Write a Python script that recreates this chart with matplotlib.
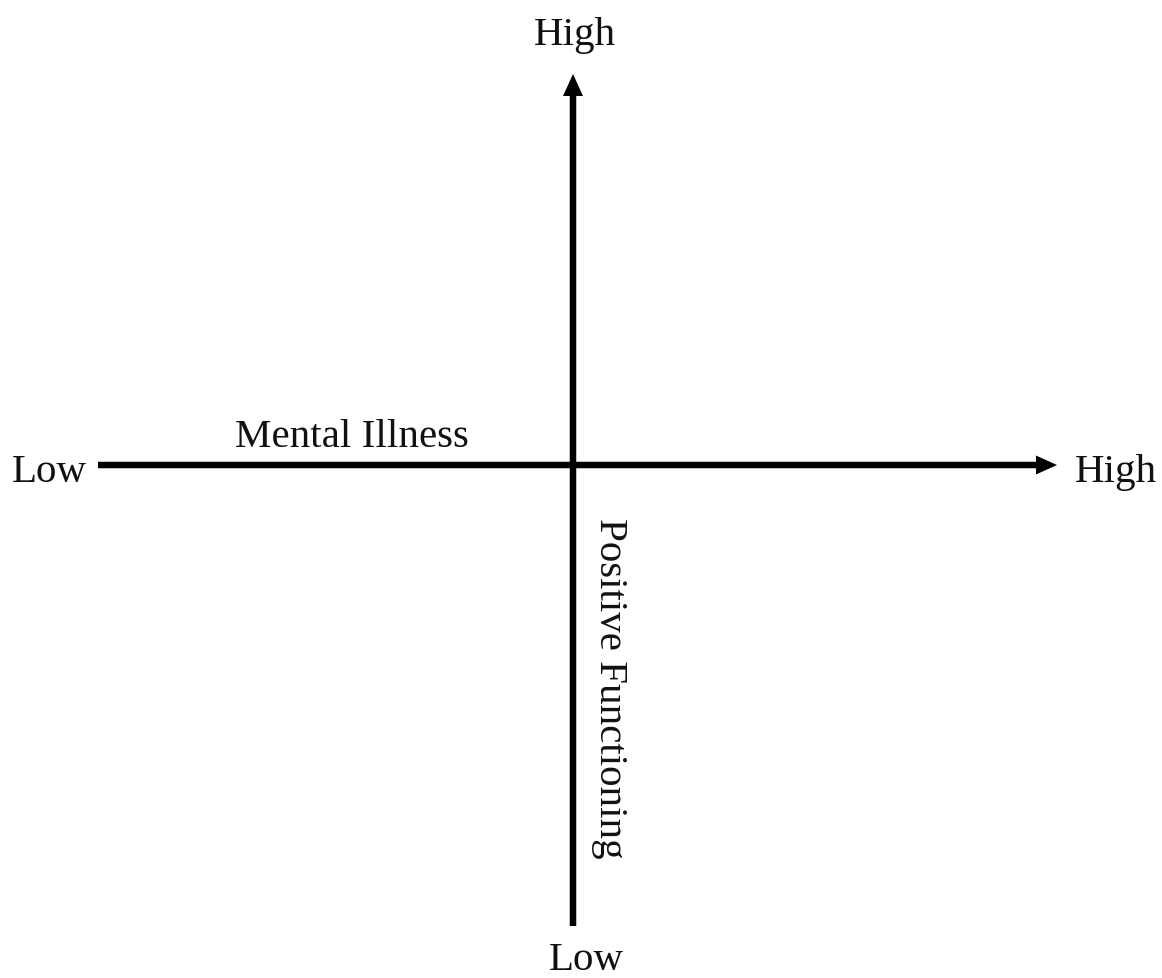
import matplotlib
matplotlib.use("Agg")
import matplotlib.pyplot as plt

# diagram layout (image pixel coordinates)
W, H = 1162, 979
h_axis = {"x0": 98, "x1": 1057, "y": 466}
v_axis = {"y0": 927, "y1": 75, "x": 573}

# labels: text, x, y, horizontal alignment
end_labels = [
    ("High", 575, 45, "center"),
    ("Low", 12, 482, "left"),
    ("High", 1075, 482, "left"),
    ("Low", 586, 970, "center"),
]
x_title = ("Mental Illness", 235, 447)
y_title = ("Positive Functioning", 600, 518)

plt.rcParams['font.family'] = ['Liberation Serif', 'DejaVu Serif']
fs = 29.5

fig = plt.figure(figsize=(W / 100, H / 100), dpi=100)
ax = fig.add_axes([0, 0, 1, 1])
ax.set_xlim(0, W)
ax.set_ylim(H, 0)
ax.axis('off')

# horizontal axis arrow
ax.arrow(h_axis["x0"], h_axis["y"], h_axis["x1"] - h_axis["x0"], 0,
         width=6.5, head_width=19, head_length=21, length_includes_head=True,
         color='black', lw=0)
# vertical axis arrow
ax.arrow(v_axis["x"], v_axis["y0"], 0, v_axis["y1"] - v_axis["y0"],
         width=6.5, head_width=20, head_length=22, length_includes_head=True,
         color='black', lw=0)

for txt, x, y, ha in end_labels:
    ax.text(x, y, txt, ha=ha, va='baseline', fontsize=fs, color='#111111')

ax.text(x_title[1], x_title[2], x_title[0], ha='left', va='baseline',
        fontsize=fs, color='#111111')
ax.text(y_title[1], y_title[2], y_title[0], ha='left', va='baseline',
        rotation=-90, rotation_mode='anchor', fontsize=fs, color='#111111')

fig.savefig('out.png', dpi=100, facecolor='white')
